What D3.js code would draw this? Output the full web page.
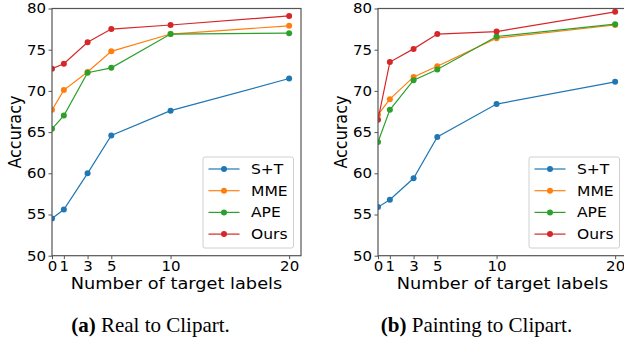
<!DOCTYPE html>
<html>
<head>
<meta charset="utf-8">
<script src="https://cdn.jsdelivr.net/npm/d3@7"></script>
<style>
  body { margin: 0; background: #fff; }
  svg { display: block; }
  .label { font-family: "DejaVu Sans", sans-serif; font-size: 16px; fill: #000; }
  .caption { font-family: "Liberation Serif", "Times New Roman", serif; font-size: 21px; fill: #000; }
</style>
</head>
<body>
<svg width="624" height="345"></svg>
<script>
// x positions (number of target labels) and axis ticks
const labelCounts = [0, 1, 3, 5, 10, 20];
const yTicks = [50, 55, 60, 65, 70, 75, 80];
const methods = ['S+T', 'MME', 'APE', 'Ours'];
const colors = ['#1f77b4', '#ff7f0e', '#2ca02c', '#d62728'];

// (a) Real to Clipart
const realST   = [54.5, 55.6, 60.0, 64.6, 67.6, 71.5];
const realMME  = [67.7, 70.1, 72.3, 74.8, 76.9, 77.9];
const realAPE  = [65.4, 67.0, 72.2, 72.8, 76.9, 77.0];
const realOurs = [72.7, 73.3, 75.9, 77.5, 78.0, 79.1];

// (b) Painting to Clipart
const paintST   = [55.9, 56.8, 59.4, 64.4, 68.4, 71.1];
const paintMME  = [67.1, 69.0, 71.7, 73.0, 76.4, 78.0];
const paintAPE  = [63.8, 67.7, 71.3, 72.6, 76.6, 78.1];
const paintOurs = [66.5, 73.5, 75.1, 76.9, 77.2, 79.6];

const svg = d3.select('svg');

const panelW = 249;
const panelTop = 8.5;
const panelBottom = 255.7;
const sx = 1.11;   // the figure text is a little wider than plain DejaVu

function drawPanel(left, id, seriesData, tag, captionText, captionX) {
    const g = svg.append('g').attr('transform', `translate(${left}, 0)`);

    const x = d3.scaleLinear().domain([0, 21]).range([0, panelW]);
    const y = d3.scaleLinear().domain([50, 80]).range([panelBottom, panelTop]);

    g.append('clipPath').attr('id', id)
     .append('rect')
     .attr('x', 0).attr('y', panelTop)
     .attr('width', panelW).attr('height', panelBottom - panelTop);

    const plot = g.append('g').attr('clip-path', `url(#${id})`);
    const line = d3.line().x((d, i) => x(labelCounts[i])).y(d => y(d));

    seriesData.forEach((vals, k) => {
        plot.append('path')
            .datum(vals)
            .attr('d', line)
            .attr('fill', 'none')
            .attr('stroke', colors[k])
            .attr('stroke-width', 1.2);
        plot.selectAll(null)
            .data(vals)
            .enter()
            .append('circle')
            .attr('cx', (d, i) => x(labelCounts[i]))
            .attr('cy', d => y(d))
            .attr('r', 3)
            .attr('fill', colors[k]);
    });

    // frame
    g.append('rect')
     .attr('x', 0).attr('y', panelTop)
     .attr('width', panelW).attr('height', panelBottom - panelTop)
     .attr('fill', 'none')
     .attr('stroke', '#555')
     .attr('stroke-width', 1.2);

    const yAxis = g.append('g')
        .call(d3.axisLeft(y).tickValues(yTicks).tickSize(3.5).tickPadding(2.5));
    const xAxis = g.append('g')
        .attr('transform', `translate(0, ${panelBottom})`)
        .call(d3.axisBottom(x).tickValues(labelCounts).tickSize(3.5).tickPadding(2.5));
    [xAxis, yAxis].forEach(a => {
        a.select('.domain').remove();
        a.selectAll('.tick line').attr('stroke', '#555').attr('stroke-width', 1);
        a.selectAll('.tick text')
         .attr('font-family', '"DejaVu Sans", sans-serif')
         .attr('font-size', 13.5)
         .attr('fill', '#000')
         .attr('transform', `scale(${sx}, 1)`);
    });
    yAxis.selectAll('.tick text').attr('x', -6 / sx);

    // axis labels
    g.append('text')
     .attr('class', 'label')
     .attr('transform', `translate(${panelW / 2}, 289) scale(${sx}, 1)`)
     .attr('text-anchor', 'middle')
     .text('Number of target labels');

    g.append('text')
     .attr('class', 'label')
     .attr('transform', `translate(${-31}, ${(panelTop + panelBottom) / 2}) scale(${sx}, 1) rotate(-90)`)
     .attr('text-anchor', 'middle')
     .text('Accuracy');

    // legend
    const lg = g.append('g').attr('transform', `translate(${panelW - 98}, 157)`);
    lg.append('rect')
      .attr('width', 90.5).attr('height', 91)
      .attr('rx', 2)
      .attr('fill', 'rgba(255,255,255,0.8)')
      .attr('stroke', '#d0d0d0')
      .attr('stroke-width', 1);
    methods.forEach((m, k) => {
        const row = lg.append('g').attr('transform', `translate(0, ${12 + k * 21.7})`);
        row.append('line')
           .attr('x1', 5.5).attr('x2', 36.5)
           .attr('stroke', colors[k]).attr('stroke-width', 1.2);
        row.append('circle').attr('cx', 21).attr('r', 3).attr('fill', colors[k]);
        row.append('text')
           .attr('class', 'label')
           .attr('transform', `translate(48, 0) scale(${sx}, 1)`)
           .attr('dy', '0.36em')
           .style('font-size', '14px')
           .text(m);
    });

    // caption
    const cap = svg.append('text')
        .attr('class', 'caption')
        .attr('x', captionX)
        .attr('y', 332)
        .attr('text-anchor', 'middle');
    cap.append('tspan').attr('font-weight', 'bold').text(tag);
    cap.append('tspan').text(' ' + captionText);
}

drawPanel(52, 'clipA', [realST, realMME, realAPE, realOurs], '(a)', 'Real to Clipart.', 150.5);
drawPanel(378, 'clipB', [paintST, paintMME, paintAPE, paintOurs], '(b)', 'Painting to Clipart.', 476.5);
</script>
</body>
</html>
